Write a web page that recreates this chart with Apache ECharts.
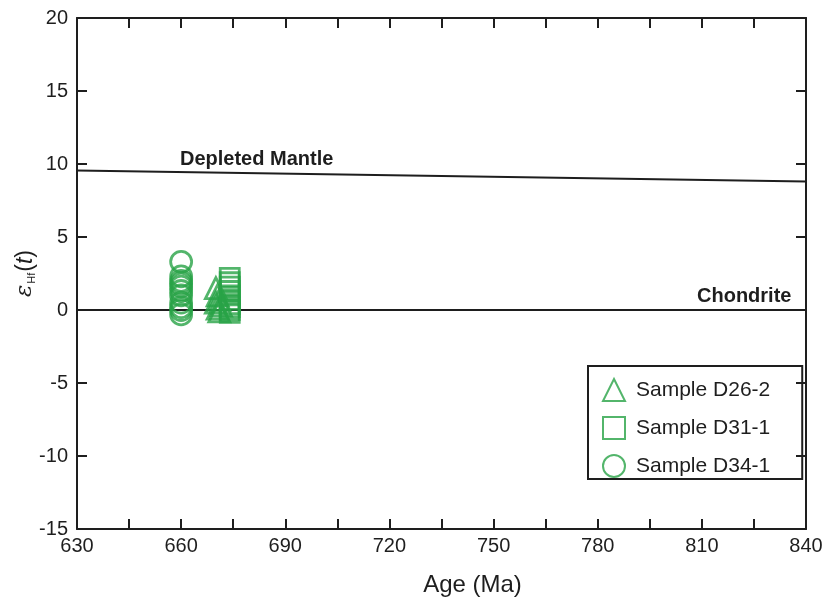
<!DOCTYPE html>
<html>
<head>
<meta charset="utf-8">
<script src="https://cdn.jsdelivr.net/npm/echarts@6/dist/echarts.min.js"></script>
<style>
  html, body { margin: 0; padding: 0; background: #fff; }
  #chart { width: 826px; height: 599px; }
</style>
</head>
<body>
<div id="chart"></div>
<script>
// sample ages (Ma) and eHf(t) values
var d26Age = [670, 670.5, 671, 670, 671.5, 670.5, 671];
var d26Hf = [1.5, 1.0, 0.7, 0.5, 0.3, 0.1, -0.1];
var d31Age = [674, 674, 674, 674, 674, 674, 674, 674, 674, 674];
var d31Hf = [2.2, 1.9, 1.6, 1.3, 1.0, 0.7, 0.4, 0.2, 0.0, -0.2];
var d34Age = [660, 660, 660, 660, 660, 660, 660, 660, 660, 660, 660];
var d34Hf = [3.3, 2.3, 2.0, 1.8, 1.6, 1.3, 1.0, 0.5, 0.2, 0.0, -0.3];

// reference lines
var dmAge = [630, 840];
var dmHf = [9.55, 8.8];
var chonAge = [630, 840];
var chonHf = [0, 0];

var green = '#28a346';
var ink = '#1e1e1e';
var font = 'Liberation Sans, Arial, sans-serif';

function pairs(xs, ys) {
  var out = [];
  for (var i = 0; i < xs.length; i++) out.push([xs[i], ys[i]]);
  return out;
}

var chart = echarts.init(document.getElementById('chart'));

var tickStyle = { show: true, inside: true, length: 10, lineStyle: { color: ink, width: 2 } };
var lineStyle = { show: true, onZero: false, lineStyle: { color: ink, width: 2 } };

var option = {
  backgroundColor: '#fff',
  animation: false,
  textStyle: { fontFamily: font },
  grid: { left: 77, right: 20, top: 18, bottom: 70, outerBoundsMode: 'none', containLabel: false },
  legend: {
    orient: 'vertical',
    left: 588,
    top: 366,
    padding: [12, 32, 1, 14],
    itemGap: 14,
    itemWidth: 22,
    itemHeight: 22,
    borderColor: ink,
    borderWidth: 2,
    borderRadius: 0,
    textStyle: { fontSize: 21, color: ink, fontFamily: font, padding: [0, 0, 0, 6] },
    data: ['Sample D26-2', 'Sample D31-1', 'Sample D34-1']
  },
  xAxis: [{
    type: 'value',
    min: 630, max: 840, interval: 15,
    name: 'Age (Ma)',
    nameLocation: 'middle',
    nameGap: 44,
    nameTextStyle: { fontSize: 24, color: ink, padding: [0, 0, 0, 62] },
    axisLine: lineStyle,
    axisTick: tickStyle,
    splitLine: { show: false },
    axisLabel: {
      fontSize: 20, color: ink, margin: 7,
      formatter: function (v) { return v % 30 === 0 ? v : ''; }
    }
  }, {
    type: 'value', position: 'top',
    min: 630, max: 840, interval: 15,
    axisLine: lineStyle, axisTick: tickStyle,
    splitLine: { show: false }, axisLabel: { show: false }
  }],
  yAxis: [{
    type: 'value',
    min: -15, max: 20, interval: 5,
    name: '{e|ε}{s|Hf}{p|(}{t|t}{p|)}',
    nameLocation: 'middle',
    nameRotate: 90,
    nameGap: 40,
    nameMoveOverlap: false,
    nameTextStyle: {
      color: ink,
      rich: {
        e: { fontSize: 23, fontStyle: 'italic', fontFamily: 'DejaVu Serif', color: ink },
        s: { fontSize: 11, verticalAlign: 'bottom', padding: [9, 1, 0, 1], color: ink },
        p: { fontSize: 23, color: ink },
        t: { fontSize: 23, fontStyle: 'italic', color: ink }
      }
    },
    axisLine: lineStyle,
    axisTick: tickStyle,
    splitLine: { show: false },
    axisLabel: { fontSize: 20, color: ink, margin: 9 }
  }, {
    type: 'value', position: 'right',
    min: -15, max: 20, interval: 5,
    axisLine: lineStyle, axisTick: tickStyle,
    splitLine: { show: false }, axisLabel: { show: false }
  }],
  graphic: [
    { type: 'text', left: 180, top: 149, style: { text: 'Depleted Mantle', fontSize: 20, fontWeight: 'bold', fill: ink, fontFamily: font } },
    { type: 'text', left: 697, top: 286, style: { text: 'Chondrite', fontSize: 20, fontWeight: 'bold', fill: ink, fontFamily: font } }
  ],
  series: [
    {
      type: 'line', data: pairs(dmAge, dmHf), symbol: 'none', silent: true,
      lineStyle: { color: ink, width: 2 }, z: 1
    },
    {
      type: 'line', data: pairs(chonAge, chonHf), symbol: 'none', silent: true,
      lineStyle: { color: ink, width: 2 }, z: 1
    },
    {
      name: 'Sample D26-2', type: 'scatter', symbol: 'triangle', symbolSize: 21,
      data: pairs(d26Age, d26Hf),
      itemStyle: { color: 'rgba(0,0,0,0)', borderColor: green, borderWidth: 2.8 }
    },
    {
      name: 'Sample D31-1', type: 'scatter', symbol: 'rect', symbolSize: 19,
      data: pairs(d31Age, d31Hf),
      itemStyle: { color: 'rgba(0,0,0,0)', borderColor: green, borderWidth: 2.8 }
    },
    {
      name: 'Sample D34-1', type: 'scatter', symbol: 'circle', symbolSize: 21,
      data: pairs(d34Age, d34Hf),
      itemStyle: { color: 'rgba(0,0,0,0)', borderColor: green, borderWidth: 2.8 }
    }
  ]
};

chart.setOption(option);
</script>
</body>
</html>
